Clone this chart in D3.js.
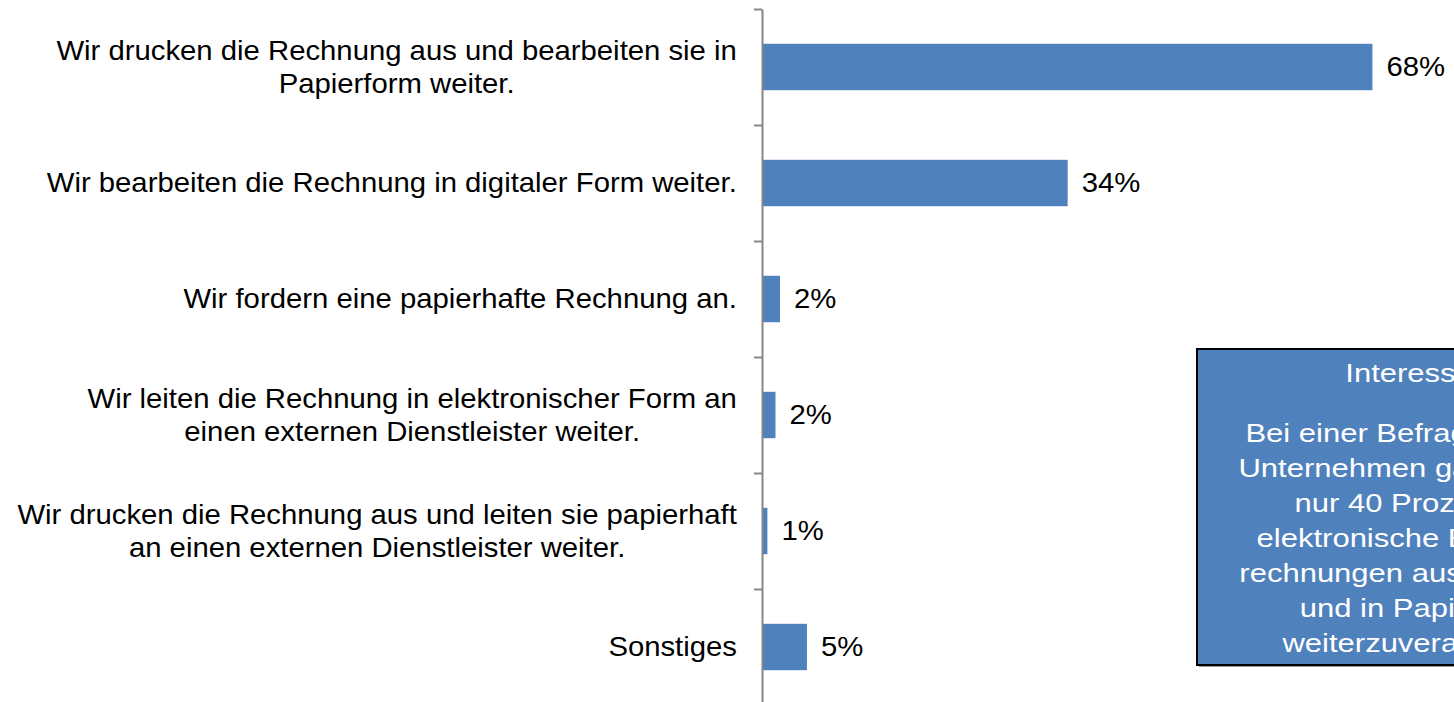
<!DOCTYPE html>
<html>
<head>
<meta charset="utf-8">
<script src="https://cdn.jsdelivr.net/npm/d3@7"></script>
<style>
  body { margin: 0; background: #fff; overflow: hidden; }
  text { font-family: "Liberation Sans", Arial, sans-serif; }
</style>
</head>
<body>
<div id="chart"></div>
<script>
// categories (one entry per line of the label), values in percent
const categories = [
    ["Wir drucken die Rechnung aus und bearbeiten sie in", "Papierform weiter."],
    ["Wir bearbeiten die Rechnung in digitaler Form weiter."],
    ["Wir fordern eine papierhafte Rechnung an."],
    ["Wir leiten die Rechnung in elektronischer Form an", "einen externen Dienstleister weiter."],
    ["Wir drucken die Rechnung aus und leiten sie papierhaft", "an einen externen Dienstleister weiter."],
    ["Sonstiges"]
];
const values = [67.9, 34, 2, 1.5, 0.6, 5];
const valueLabels = ["68%", "34%", "2%", "2%", "1%", "5%"];

const boxTitle = "Interessant";
const boxLines = [
    "Bei einer Befragung unter",
    "Unternehmen gaben dabei",
    "nur 40 Prozent an,",
    "elektronische Eingangs-",
    "rechnungen auszudrucken",
    "und in Papierform",
    "weiterzuverarbeiten."
];

// text is a bit wider than tall in the picture, so stretch it horizontally
function stretchedText(parent, x, y, str, size, sx, anchor, color) {
    return parent.append("text")
        .attr("transform", "translate(" + x + "," + y + ") scale(" + sx + ",1)")
        .attr("dy", "0.35em")
        .attr("text-anchor", anchor)
        .attr("font-size", size + "px")
        .attr("fill", color)
        .text(str);
}

function drawSvg() {
    const width = 1454, height = 702;
    const axisX = 762;
    const top = 9, bottom = 705;
    const fontSize = 27, sx = 1.085;

    const svg = d3.select("#chart")
        .append("svg")
        .attr("width", width)
        .attr("height", height);

    const ids = categories.map((c, i) => i);

    // bars
    const y = d3.scaleBand()
        .domain(ids)
        .range([top, bottom])
        .paddingInner(0.6)
        .paddingOuter(0.3);

    const x = d3.scaleLinear()
        .domain([0, 100])
        .range([axisX, axisX + 899]);

    svg.selectAll("rect.bar")
        .data(ids)
        .enter()
        .append("rect")
        .attr("class", "bar")
        .attr("x", x(0))
        .attr("y", i => y(i))
        .attr("width", i => x(values[i]) - x(0))
        .attr("height", y.bandwidth())
        .attr("fill", "#4F81BD");

    // value labels
    ids.forEach(i => {
        stretchedText(svg, x(values[i]) + 14, y(i) + y.bandwidth() / 2,
            valueLabels[i], fontSize, sx, "start", "#000");
    });

    // category axis with ticks between categories
    const yTicks = d3.scaleLinear()
        .domain([0, categories.length])
        .range([top, bottom]);
    const axis = svg.append("g")
        .attr("transform", "translate(" + axisX + ",0)")
        .call(d3.axisLeft(yTicks)
            .tickValues(d3.range(categories.length + 1))
            .tickSize(8)
            .tickSizeOuter(0)
            .tickFormat(""));
    axis.selectAll("path, line")
        .attr("stroke", "#868686")
        .attr("stroke-width", 2);

    // category labels: block right aligned, lines centered inside block
    const labelRight = 737, lineHeight = 33;
    ids.forEach(i => {
        const lines = categories[i];
        const g = svg.append("g");
        const cy = y(i) + y.bandwidth() / 2;
        const texts = lines.map((l, k) => g.append("text")
            .attr("font-size", fontSize + "px")
            .attr("fill", "#000")
            .text(l));
        const maxW = d3.max(texts, t => t.node().getComputedTextLength()) * sx;
        texts.forEach(t => t.remove());
        lines.forEach((l, k) => {
            stretchedText(g, labelRight - maxW / 2,
                cy + (k - (lines.length - 1) / 2) * lineHeight,
                l, fontSize, sx, "middle", "#000");
        });
    });

    // info box on the right
    const box = svg.append("g");
    const bx = 1197, by = 349, bw = 450, bh = 316;
    box.append("rect")
        .attr("x", bx + 2)
        .attr("y", by + 2)
        .attr("width", bw)
        .attr("height", bh)
        .attr("fill", "#9a9a9a");
    box.append("rect")
        .attr("x", bx)
        .attr("y", by)
        .attr("width", bw)
        .attr("height", bh)
        .attr("fill", "#4F81BD")
        .attr("stroke", "#000")
        .attr("stroke-width", 2);
    const cx = bx + bw / 2, boxFont = 26.5, boxSx = 1.17;
    stretchedText(box, cx, 373, boxTitle, boxFont, boxSx, "middle", "#fff");
    boxLines.forEach((l, k) => {
        stretchedText(box, cx, 433 + k * 35, l, boxFont, boxSx, "middle", "#fff");
    });
}

drawSvg();
</script>
</body>
</html>
